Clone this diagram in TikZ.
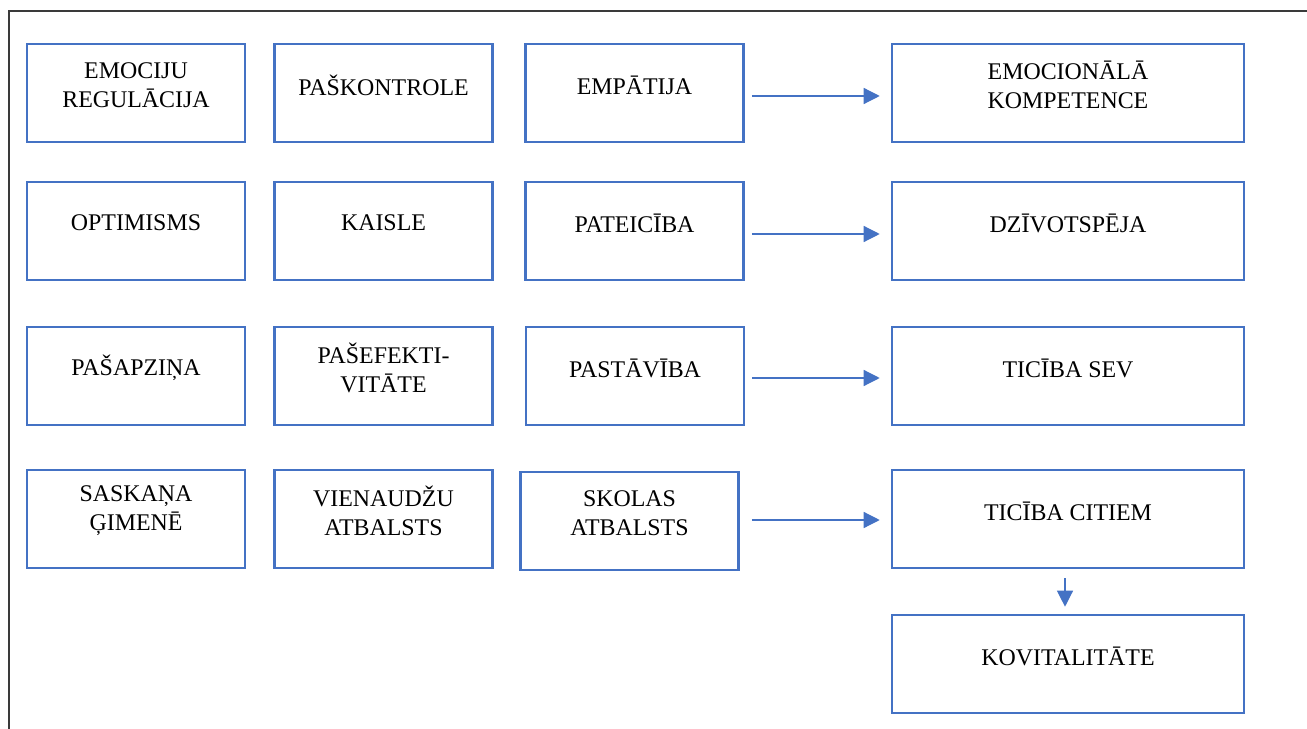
\documentclass[tikz,border=0pt]{standalone}
\usepackage{fontspec}
\setmainfont{Liberation Serif}
\usetikzlibrary{arrows.meta}
\definecolor{kastezila}{HTML}{4472C4}
\definecolor{ramis}{HTML}{3A3A3A}
\begin{document}
\begin{tikzpicture}[x=0.02cm,y=-0.02cm,
	kaste/.style={draw=kastezila,line width=1.5pt,minimum width=4.36cm,minimum height=1.96cm,inner sep=0pt},
	plata/.style={kaste,minimum width=7.04cm},
	teksts/.style={align=center,font=\fontsize{13.6}{16.6}\selectfont,yshift=0.16cm},
	bulta/.style={draw=kastezila,line width=0.7pt,-{Triangle[length=0.32cm,width=0.32cm]}}]
	\useasboundingbox (0,0) rectangle (1307,729);
	\draw[ramis,line width=0.9pt] (9,729) -- (9,11) -- (1307,11);

	% first row
	\node[kaste] (regul) at (136,93) {};
	\node[kaste] (paskontr) at (383.5,93) {};
	\node[kaste] (empat) at (634.5,93) {};
	\node[plata] (emokomp) at (1068,93) {};
	\node[teksts] (regul-t) at (regul) {EMOCIJU\\REGULĀCIJA};
	\node[teksts] (paskontr-t) at (paskontr) {PAŠKONTROLE};
	\node[teksts] (empat-t) at (empat) {EMPĀTIJA};
	\node[teksts] (emokomp-t) at (emokomp) {EMOCIONĀLĀ\\KOMPETENCE};

	% second row
	\node[kaste] (optim) at (136,231) {};
	\node[kaste] (kaisle) at (383.5,231) {};
	\node[kaste] (pateic) at (634.5,231) {};
	\node[plata] (dziv) at (1068,231) {};
	\node[teksts] (optim-t) at (optim) {OPTIMISMS};
	\node[teksts] (kaisle-t) at (kaisle) {KAISLE};
	\node[teksts] (pateic-t) at (pateic) {PATEICĪBA};
	\node[teksts] (dziv-t) at (dziv) {DZĪVOTSPĒJA};

	% third row
	\node[kaste] (pasapz) at (136,376) {};
	\node[kaste] (pasefekt) at (383.5,376) {};
	\node[kaste] (pastav) at (635,376) {};
	\node[plata] (ticsev) at (1068,376) {};
	\node[teksts] (pasapz-t) at (pasapz) {PAŠAPZIŅA};
	\node[teksts] (pasefekt-t) at (pasefekt) {PAŠEFEKTI-\\VITĀTE};
	\node[teksts] (pastav-t) at (pastav) {PASTĀVĪBA};
	\node[teksts] (ticsev-t) at (ticsev) {TICĪBA SEV};

	% fourth row
	\node[kaste] (saskana) at (136,519) {};
	\node[kaste] (vienaudz) at (383.5,519) {};
	\node[kaste] (skolas) at (629.5,521) {};
	\node[plata] (ticcit) at (1068,519) {};
	\node[teksts] (saskana-t) at (saskana) {SASKAŅA\\ĢIMENĒ};
	\node[teksts] (vienaudz-t) at (vienaudz) {VIENAUDŽU\\ATBALSTS};
	\node[teksts] (skolas-t) at (skolas) {SKOLAS\\ATBALSTS};
	\node[teksts] (ticcit-t) at (ticcit) {TICĪBA CITIEM};

	\node[plata] (kovit) at (1068,664) {};
	\node[teksts] (kovit-t) at (kovit) {KOVITALITĀTE};

	\draw[bulta,shorten <=0.14cm,shorten >=0.22cm] ([yshift=-0.06cm]empat.east) -- ([yshift=-0.06cm]emokomp.west);
	\draw[bulta,shorten <=0.14cm,shorten >=0.22cm] ([yshift=-0.06cm]pateic.east) -- ([yshift=-0.06cm]dziv.west);
	\draw[bulta,shorten <=0.14cm,shorten >=0.22cm] ([yshift=-0.04cm]pastav.east) -- ([yshift=-0.04cm]ticsev.west);
	\draw[bulta,shorten <=0.24cm,shorten >=0.22cm] ([yshift=0.02cm]skolas.east) -- ([yshift=0.02cm]skolas.east -| ticcit.west);
	\draw[bulta,shorten <=0.18cm,shorten >=0.14cm] ([xshift=-0.06cm]ticcit.south) -- ([xshift=-0.06cm]kovit.north);
\end{tikzpicture}
\end{document}
